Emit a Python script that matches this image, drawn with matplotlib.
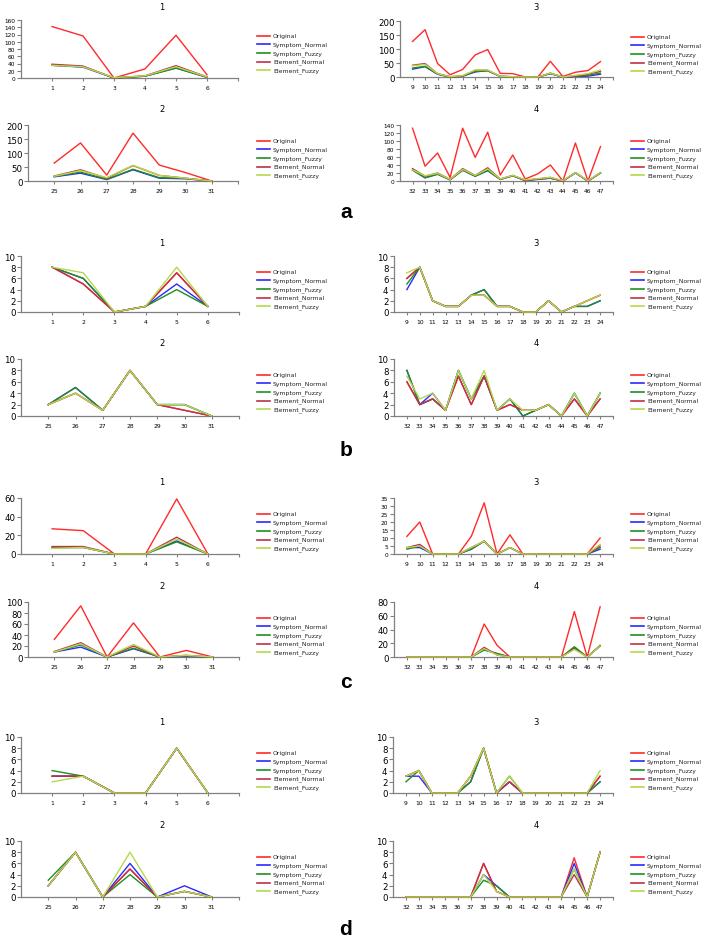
import numpy as np
import matplotlib.pyplot as plt
from matplotlib.lines import Line2D

W, H = 703, 945

names = ['Original', 'Symptom_Normal', 'Symptom_Fuzzy', 'Element_Normal', 'Element_Fuzzy']
colors = ['#ff2a2a', '#2a2aff', '#1f8f1f', '#c0304a', '#b5d94a']

x1 = [1, 2, 3, 4, 5, 6]
x2 = [25, 26, 27, 28, 29, 30, 31]
x3 = [9, 10, 11, 12, 13, 14, 15, 16, 17, 18, 19, 20, 21, 22, 23, 24]
x4 = [32, 33, 34, 35, 36, 37, 38, 39, 40, 41, 42, 43, 44, 45, 46, 47]

# rows: Original, Symptom_Normal, Symptom_Fuzzy, Element_Normal, Element_Fuzzy
a1 = [[142, 116, 0, 25, 118, 9],
      [35, 30, 0, 5, 28, 2],
      [35, 31, 0, 5, 27, 2],
      [38, 33, 0, 6, 34, 3],
      [35, 31, 1, 6, 31, 3]]
a2 = [[64, 136, 21, 171, 57, 30, 0],
      [15, 28, 5, 40, 10, 8, 0],
      [16, 32, 6, 42, 12, 9, 0],
      [18, 40, 10, 55, 20, 10, 0],
      [17, 37, 12, 56, 20, 10, 0]]
a3 = [[127, 169, 48, 8, 27, 79, 98, 13, 12, 0, 0, 56, 2, 17, 23, 55],
      [28, 37, 10, 0, 3, 18, 23, 2, 1, 0, 0, 12, 0, 2, 3, 10],
      [32, 38, 10, 0, 3, 20, 22, 2, 1, 0, 0, 12, 0, 3, 6, 14],
      [42, 48, 12, 1, 4, 24, 24, 2, 1, 0, 0, 14, 0, 4, 10, 20],
      [40, 45, 12, 1, 5, 25, 25, 2, 1, 0, 0, 14, 0, 6, 12, 25]]
a4 = [[132, 37, 70, 9, 132, 59, 122, 15, 65, 5, 18, 40, 0, 95, 0, 86],
      [28, 8, 17, 3, 27, 12, 26, 4, 13, 1, 4, 7, 0, 20, 0, 20],
      [27, 8, 17, 3, 27, 12, 26, 4, 13, 1, 5, 7, 0, 21, 0, 20],
      [31, 12, 20, 4, 31, 14, 33, 5, 14, 2, 5, 9, 0, 21, 0, 21],
      [28, 13, 19, 4, 29, 14, 30, 5, 14, 3, 6, 9, 1, 21, 1, 21]]

b1 = [[8, 5, 0, 1, 7, 1],
      [8, 6, 0, 1, 5, 1],
      [8, 6, 0, 1, 4, 1],
      [8, 5, 0, 1, 7, 1],
      [8, 7, 0, 1, 8, 1]]
b2 = [[2, 4, 1, 8, 2, 1, 0],
      [2, 5, 1, 8, 2, 2, 0],
      [2, 5, 1, 8, 2, 2, 0],
      [2, 4, 1, 8, 2, 1, 0],
      [2, 4, 1, 8, 2, 2, 0]]
b3 = [[6, 8, 2, 1, 1, 3, 3, 1, 1, 0, 0, 2, 0, 1, 2, 3],
      [4, 8, 2, 1, 1, 3, 4, 1, 1, 0, 0, 2, 0, 1, 1, 2],
      [5, 8, 2, 1, 1, 3, 4, 1, 1, 0, 0, 2, 0, 1, 1, 2],
      [6, 8, 2, 1, 1, 3, 3, 1, 1, 0, 0, 2, 0, 1, 2, 3],
      [7, 8, 2, 1, 1, 3, 3, 1, 1, 0, 0, 2, 0, 1, 2, 3]]
b4 = [[6, 2, 3, 1, 7, 2, 7, 1, 2, 1, 1, 2, 0, 3, 0, 3],
      [8, 2, 4, 1, 8, 3, 7, 1, 3, 0, 1, 2, 0, 4, 0, 4],
      [8, 2, 3, 1, 8, 3, 7, 1, 3, 0, 1, 2, 0, 4, 0, 4],
      [6, 2, 3, 1, 7, 2, 7, 1, 2, 1, 1, 2, 0, 3, 0, 3],
      [7, 3, 4, 1, 8, 3, 8, 1, 3, 1, 1, 2, 0, 4, 0, 4]]

c1 = [[27, 25, 0, 0, 59, 0],
      [7, 7, 0, 0, 14, 0],
      [7, 7, 0, 0, 13, 0],
      [8, 8, 0, 0, 18, 0],
      [6, 7, 0, 0, 16, 0]]
c2 = [[32, 93, 0, 62, 0, 12, 0],
      [9, 18, 0, 15, 0, 1, 0],
      [9, 22, 0, 16, 0, 2, 0],
      [10, 26, 0, 20, 0, 3, 0],
      [9, 24, 0, 23, 0, 3, 0]]
c3 = [[11, 20, 0, 0, 0, 11, 32, 0, 12, 0, 0, 0, 0, 0, 0, 10],
      [4, 4, 0, 0, 0, 3, 8, 0, 4, 0, 0, 0, 0, 0, 0, 3],
      [3, 5, 0, 0, 0, 3, 8, 0, 4, 0, 0, 0, 0, 0, 0, 4],
      [4, 6, 0, 0, 0, 4, 8, 0, 4, 0, 0, 0, 0, 0, 0, 5],
      [4, 5, 0, 0, 0, 4, 8, 0, 4, 0, 0, 0, 0, 0, 0, 6]]
c4 = [[0, 0, 0, 0, 0, 0, 48, 17, 0, 0, 0, 0, 0, 66, 0, 73],
      [0, 0, 0, 0, 0, 0, 11, 5, 0, 0, 0, 0, 0, 13, 0, 16],
      [0, 0, 0, 0, 0, 0, 10, 5, 0, 0, 0, 0, 0, 15, 0, 17],
      [0, 0, 0, 0, 0, 0, 14, 3, 0, 0, 0, 0, 0, 12, 0, 16],
      [0, 0, 0, 0, 0, 0, 12, 3, 0, 0, 0, 0, 0, 11, 0, 16]]

d1 = [[3, 3, 0, 0, 8, 0],
      [3, 3, 0, 0, 8, 0],
      [4, 3, 0, 0, 8, 0],
      [3, 3, 0, 0, 8, 0],
      [2, 3, 0, 0, 8, 0]]
d2 = [[2, 8, 0, 5, 0, 1, 0],
      [2, 8, 0, 6, 0, 2, 0],
      [3, 8, 0, 4, 0, 1, 0],
      [2, 8, 0, 5, 0, 1, 0],
      [2, 8, 0, 8, 0, 1, 0]]
d3 = [[3, 4, 0, 0, 0, 3, 8, 0, 2, 0, 0, 0, 0, 0, 0, 3],
      [3, 3, 0, 0, 0, 2, 8, 0, 2, 0, 0, 0, 0, 0, 0, 2],
      [2, 4, 0, 0, 0, 2, 8, 0, 3, 0, 0, 0, 0, 0, 0, 2],
      [3, 4, 0, 0, 0, 3, 8, 0, 2, 0, 0, 0, 0, 0, 0, 3],
      [3, 4, 0, 0, 0, 3, 8, 0, 3, 0, 0, 0, 0, 0, 0, 4]]
d4 = [[0, 0, 0, 0, 0, 0, 6, 1, 0, 0, 0, 0, 0, 7, 0, 8],
      [0, 0, 0, 0, 0, 0, 4, 2, 0, 0, 0, 0, 0, 6, 0, 8],
      [0, 0, 0, 0, 0, 0, 3, 2, 0, 0, 0, 0, 0, 5, 0, 8],
      [0, 0, 0, 0, 0, 0, 6, 1, 0, 0, 0, 0, 0, 4, 0, 8],
      [0, 0, 0, 0, 0, 0, 4, 1, 0, 0, 0, 0, 0, 5, 0, 8]]

# panel: data, x, title, (left, right, top, zero) in px, ymax, ystep, ytick fontsize
panels = [
    (a1, x1, '1', (21, 238, 21, 79), 160, 20, 4.2),
    (a2, x2, '2', (28, 238, 126, 182), 200, 50, 6.2),
    (a3, x3, '3', (400, 613, 22, 78), 200, 50, 6.2),
    (a4, x4, '4', (400, 613, 126, 182), 140, 20, 4.2),
    (b1, x1, '1', (21, 239, 257, 313), 10, 2, 6.2),
    (b2, x2, '2', (21, 239, 360, 417), 10, 2, 6.2),
    (b3, x3, '3', (394, 613, 257, 313), 10, 2, 6.2),
    (b4, x4, '4', (394, 613, 360, 417), 10, 2, 6.2),
    (c1, x1, '1', (21, 239, 499, 555), 60, 20, 6.2),
    (c2, x2, '2', (28, 239, 603, 658), 100, 20, 6.2),
    (c3, x3, '3', (394, 613, 499, 555), 35, 5, 4.2),
    (c4, x4, '4', (394, 613, 603, 658), 80, 20, 6.2),
    (d1, x1, '1', (21, 239, 738, 794), 10, 2, 6.2),
    (d2, x2, '2', (21, 239, 842, 898), 10, 2, 6.2),
    (d3, x3, '3', (393, 613, 738, 794), 10, 2, 6.2),
    (d4, x4, '4', (393, 613, 842, 898), 10, 2, 6.2),
]
title_y = [8, 110, 7, 110, 243, 344, 243, 344, 483, 587, 483, 587, 723, 826, 723, 826]

fig = plt.figure(figsize=(W / 100, H / 100), dpi=100)
gray = '#808080'

for k, (data, xs, title, box, ymax, ystep, yfs) in enumerate(panels):
    l, r, t, b = box
    ax = fig.add_axes([l / W, 1 - b / H, (r - l) / W, (b - t) / H])
    for i in range(5):
        ax.plot(xs, data[i], color=colors[i], lw=1.0, clip_on=False, zorder=3)
    ax.set_xlim(xs[0] - 1, xs[-1] + 1)
    ax.set_ylim(0, ymax)
    ax.set_yticks(np.arange(0, ymax + 1, ystep))
    ax.set_xticks(xs)
    ax.set_xticks([xs[-1] + 1], minor=True)
    for s in ['top', 'right']:
        ax.spines[s].set_visible(False)
    for s in ['left', 'bottom']:
        ax.spines[s].set_color(gray)
        ax.spines[s].set_linewidth(0.9)
    ax.tick_params(axis='y', direction='out', length=3, width=0.8, color=gray,
                   labelsize=yfs, pad=1)
    ax.tick_params(axis='x', which='both', direction='out', length=2, width=0.8,
                   color=gray, labelsize=4.3, pad=3)
    ax.patch.set_alpha(0)

    # title
    tx = 162 if l < 300 else 536
    fig.text(tx / W, 1 - title_y[k] / H, title, ha='center', va='center', fontsize=6)

    # legend
    lx0 = 257 if l < 300 else 631
    for i, name in enumerate(names):
        y = t + 15.5 + i * 8.7
        fig.add_artist(Line2D([lx0 / W, (lx0 + 13) / W], [1 - y / H, 1 - y / H],
                              color=colors[i], lw=1.2, transform=fig.transFigure))
        fig.text((lx0 + 16) / W, 1 - y / H, name, fontsize=4.4, va='center',
                 color='#222222')

for lab, y in zip(['a', 'b', 'c', 'd'], [213, 451, 683, 930]):
    fig.text(346 / W, 1 - y / H, lab, fontsize=15, fontweight='bold',
             family='Liberation Sans', ha='center', va='center')

fig.savefig('out.png', dpi=100)
